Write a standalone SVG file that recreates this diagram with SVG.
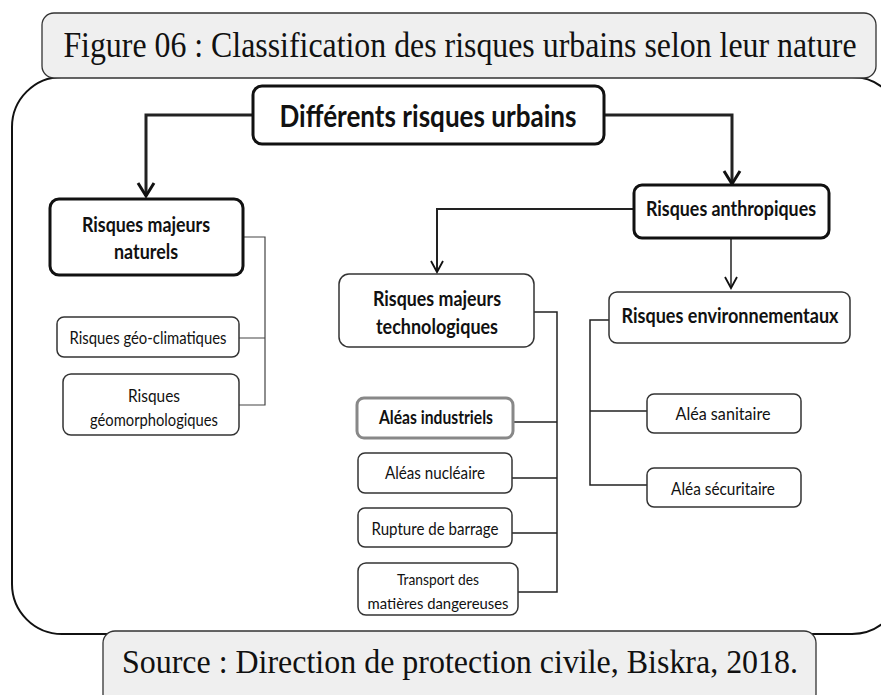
<svg xmlns="http://www.w3.org/2000/svg" width="881" height="695" viewBox="0 0 881 695">
  <defs>
    <style>
      .caption { fill: #efefef; stroke: #333; stroke-width: 1.3; }
      .captxt { font-family: "Liberation Serif", "Times New Roman", serif; fill: #111; text-anchor: middle; }
      .frame { fill: #fff; stroke: #111; stroke-width: 2; }
      .bold3 { fill: #fff; stroke: #111; stroke-width: 3; }
      .plain { fill: #fff; stroke: #333; stroke-width: 1.5; }
      .grey3 { fill: #fff; stroke: #888; stroke-width: 3; }
      .t { font-family: Lato, "Noto Sans", "Liberation Sans", sans-serif; fill: #111; text-anchor: middle; }
      .b { font-weight: bold; }
      .wire { fill: none; stroke: #222; }
      .w3 { stroke-width: 3; }
      .w2 { stroke-width: 2; }
      .w15 { stroke-width: 1.5; }
      .w1 { stroke-width: 1.2; stroke: #444; }
    </style>
    <marker id="chevBig" markerUnits="userSpaceOnUse" orient="auto" refX="0" refY="0" overflow="visible">
      <path d="M-13,-8 L0,0 L-13,8" fill="none" stroke="#111" stroke-width="3"/>
    </marker>
    <marker id="chevSmall" markerUnits="userSpaceOnUse" orient="auto" refX="0" refY="0" overflow="visible">
      <path d="M-11,-6 L0,0 L-11,6" fill="none" stroke="#111" stroke-width="1.8"/>
    </marker>
  </defs>

  <rect width="881" height="695" fill="#fff"/>

  <!-- outer rounded frame -->
  <rect class="frame" x="12" y="77" width="890" height="557" rx="50" ry="50"/>

  <!-- title banner (text narrowed horizontally) -->
  <g id="title">
    <rect class="caption" x="42" y="13" width="834" height="65" rx="12"/>
    <text class="captxt" font-size="35" transform="translate(460,57) scale(0.91,1)">Figure 06 : Classification des risques urbains selon leur nature</text>
  </g>

  <!-- source banner -->
  <g id="source">
    <rect class="caption" x="103" y="631" width="713" height="75" rx="12"/>
    <text class="captxt" font-size="34" transform="translate(460,673) scale(0.94,1)">Source : Direction de protection civile, Biskra, 2018.</text>
  </g>

  <!-- connectors -->
  <g id="connectors">
    <path class="wire w3" d="M253,115 H146 V196" marker-end="url(#chevBig)"/>
    <path class="wire w3" d="M604,115 H732 V184" marker-end="url(#chevBig)"/>
    <path class="wire w2" d="M634,209 H437 V272" marker-end="url(#chevSmall)"/>
    <path class="wire w15" d="M731,238 V288" marker-end="url(#chevSmall)"/>
    <path class="wire w1" d="M243,237 H265 V405 H239 M265,338 H239"/>
    <path class="wire w15" d="M534,312 H557 V592 H518 M557,422 H513 M557,478 H512 M557,533 H512"/>
    <path class="wire w15" d="M609,320 H590 V485 H647 M590,411 H647"/>
  </g>

  <g id="n-root">
    <rect class="bold3" x="253" y="86" width="351" height="58" rx="9"/>
    <text class="t b" x="428" y="127" font-size="31" textLength="297" lengthAdjust="spacingAndGlyphs">Différents risques urbains</text>
  </g>

  <g id="n-naturels">
    <rect class="bold3" x="50" y="199" width="193" height="76" rx="9"/>
    <text class="t b" x="146" y="232" font-size="21" textLength="128" lengthAdjust="spacingAndGlyphs">Risques majeurs</text>
    <text class="t b" x="146" y="259" font-size="21" textLength="64" lengthAdjust="spacingAndGlyphs">naturels</text>
  </g>

  <g id="n-geoclim">
    <rect class="plain" x="57" y="317" width="182" height="40" rx="7"/>
    <text class="t" x="148" y="344" font-size="18" textLength="157" lengthAdjust="spacingAndGlyphs">Risques géo-climatiques</text>
  </g>

  <g id="n-geomorph">
    <rect class="plain" x="63" y="374" width="176" height="61" rx="8"/>
    <text class="t" x="154" y="402" font-size="18" textLength="52" lengthAdjust="spacingAndGlyphs">Risques</text>
    <text class="t" x="154" y="426" font-size="18" textLength="128" lengthAdjust="spacingAndGlyphs">géomorphologiques</text>
  </g>

  <g id="n-anthropiques">
    <rect class="bold3" x="634" y="185" width="195" height="53" rx="8"/>
    <text class="t b" x="731" y="216" font-size="21" textLength="170" lengthAdjust="spacingAndGlyphs">Risques anthropiques</text>
  </g>

  <g id="n-techno">
    <rect class="plain" x="339" y="274" width="195" height="73" rx="10"/>
    <text class="t b" x="437" y="306" font-size="21" textLength="128" lengthAdjust="spacingAndGlyphs">Risques majeurs</text>
    <text class="t b" x="437" y="334" font-size="21" textLength="122" lengthAdjust="spacingAndGlyphs">technologiques</text>
  </g>

  <g id="n-environ">
    <rect class="plain" x="609" y="292" width="241" height="51" rx="8"/>
    <text class="t b" x="730" y="323" font-size="21" textLength="217" lengthAdjust="spacingAndGlyphs">Risques environnementaux</text>
  </g>

  <g id="n-industriels">
    <rect class="grey3" x="357" y="398" width="156" height="40" rx="7"/>
    <text class="t b" x="436" y="424" font-size="18" textLength="114" lengthAdjust="spacingAndGlyphs">Aléas industriels</text>
  </g>

  <g id="n-nucleaire">
    <rect class="plain" x="358" y="453" width="154" height="40" rx="7"/>
    <text class="t" x="435" y="479" font-size="18" textLength="100" lengthAdjust="spacingAndGlyphs">Aléas nucléaire</text>
  </g>

  <g id="n-barrage">
    <rect class="plain" x="358" y="508" width="154" height="39" rx="7"/>
    <text class="t" x="435" y="535" font-size="18" textLength="127" lengthAdjust="spacingAndGlyphs">Rupture de barrage</text>
  </g>

  <g id="n-transport">
    <rect class="plain" x="358" y="563" width="160" height="52" rx="8"/>
    <text class="t" x="438" y="585" font-size="16" textLength="82" lengthAdjust="spacingAndGlyphs">Transport des</text>
    <text class="t" x="438" y="609" font-size="16" textLength="141" lengthAdjust="spacingAndGlyphs">matières dangereuses</text>
  </g>

  <g id="n-sanitaire">
    <rect class="plain" x="647" y="394" width="154" height="39" rx="7"/>
    <text class="t" x="723" y="420" font-size="18" textLength="95" lengthAdjust="spacingAndGlyphs">Aléa  sanitaire</text>
  </g>

  <g id="n-securitaire">
    <rect class="plain" x="647" y="468" width="154" height="39" rx="7"/>
    <text class="t" x="723" y="495" font-size="18" textLength="104" lengthAdjust="spacingAndGlyphs">Aléa sécuritaire</text>
  </g>
</svg>
